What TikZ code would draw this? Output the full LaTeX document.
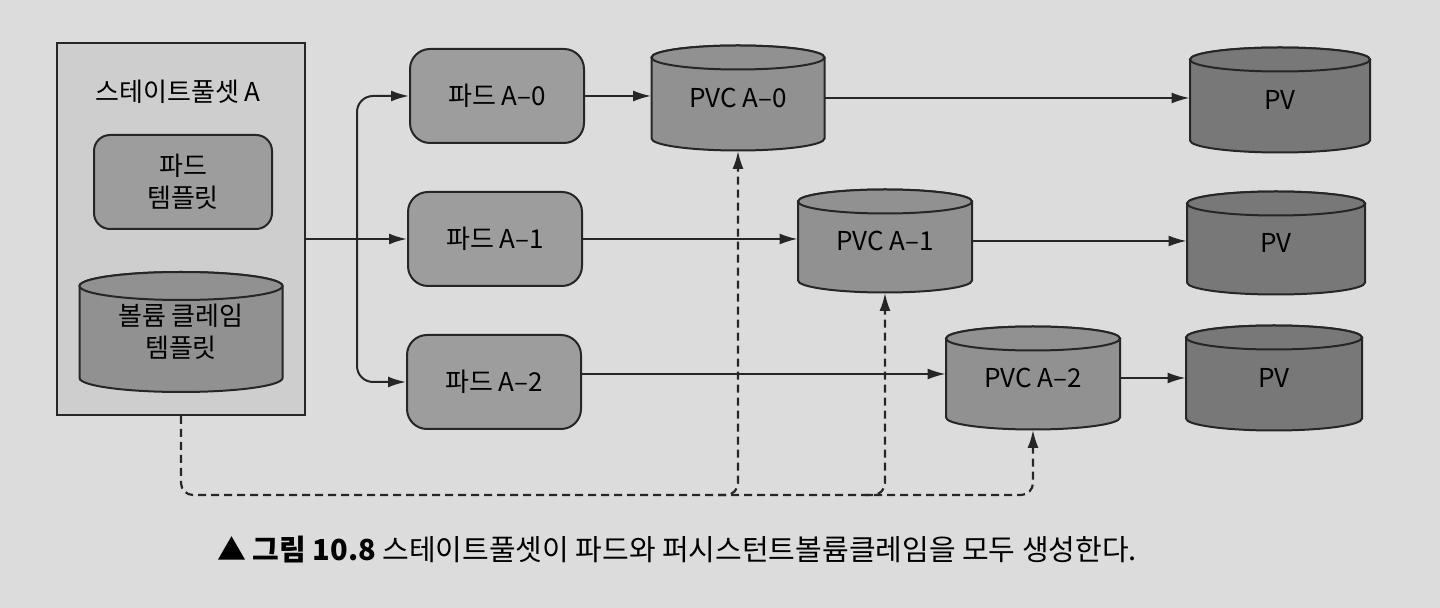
\documentclass[tikz,border=0pt]{standalone}
\usepackage{fontspec}
\setmainfont{Noto Sans CJK KR}
\usepackage{tikz}
\usetikzlibrary{calc,arrows.meta,positioning}
\definecolor{page-bg}{HTML}{DCDCDC}
\definecolor{set-fill}{HTML}{CECECE}
\definecolor{pod-fill}{HTML}{9D9D9D}
\definecolor{pvc-fill}{HTML}{919191}
\definecolor{pv-fill}{HTML}{787878}
\definecolor{ink}{HTML}{262626}

% #1 name, #2 x, #3 y, #4 width, #5 full height, #6 end radius, #7 fill, #8 text
\newcommand{\canister}[8]{%
  \begin{scope}[shift={(#2,#3)}]
    \draw[canline, fill=#7] (-#4/2,-#5/2+#6) -- (-#4/2,#5/2-#6)
      arc[start angle=180, end angle=0, x radius=#4/2, y radius=#6]
      -- (#4/2,-#5/2+#6)
      arc[start angle=0, end angle=-180, x radius=#4/2, y radius=#6] -- cycle;
    \draw[canline, fill=#7] (0,-#5/2+#6) ellipse[x radius=#4/2, y radius=#6];
  \end{scope}
  \node[minimum width=#4*0.5pt, minimum height=#5*0.5pt, inner sep=0pt, align=center] (#1) at (#2,#3) {#8};
}

\begin{document}
\begin{tikzpicture}[x=0.5pt,y=-0.5pt,
    font=\fontsize{13}{16}\selectfont,
    podbox/.style={draw=ink, line width=1pt, rounded corners=10pt, fill=pod-fill,
      minimum width=87pt, minimum height=47pt, align=center},
    canline/.style={draw=ink, line width=1pt},
    link/.style={draw=ink, line width=1pt, -{Latex[length=9pt,width=5.5pt]}},
    claim/.style={link, line width=1.1pt, dash pattern=on 4pt off 2.5pt, rounded corners=6pt}]
    \fill[page-bg] (0,0) rectangle (1440,608);
    \useasboundingbox (0,0) rectangle (1440,608);

    % stateful set with its two templates
    \node[draw=ink, line width=0.8pt, fill=set-fill, minimum width=124pt, minimum height=186pt] (set) at (181,229) {};
    \node (settitle) at (178,92) {스테이트풀셋 A};
    \node[podbox, rounded corners=8pt, minimum width=89pt] (podtpl) at (183,182) {파드\\템플릿};
    \canister{vcttpl}{181}{332}{203}{120}{14}{pvc-fill}{볼륨 클레임\\템플릿}

    % pods
    \node[podbox] (pod0) at (497,96) {파드 A–0};
    \node[podbox] (pod1) at (495,239) {파드 A–1};
    \node[podbox] (pod2) at (494,382) {파드 A–2};

    % claims and volumes
    \canister{pvc0}{738}{98}{173}{105}{12}{pvc-fill}{PVC A–0}
    \canister{pvc1}{885}{241}{174}{103}{12}{pvc-fill}{PVC A–1}
    \canister{pvc2}{1033}{378}{174}{103}{12}{pvc-fill}{PVC A–2}
    \canister{pv0}{1280}{100}{180}{105}{12}{pv-fill}{PV}
    \canister{pv1}{1276}{243}{178}{103}{12}{pv-fill}{PV}
    \canister{pv2}{1274}{378}{176}{105}{12}{pv-fill}{PV}

    % set creates pods
    \coordinate (fork) at (357,239);
    \draw[link] (set.east |- pod1.west) -- (pod1.west);
    \draw[link, rounded corners=8pt] (fork) |- (pod0.west);
    \draw[link, rounded corners=8pt] (fork) |- (pod2.west);

    % pods bind claims, claims bind volumes
    \draw[link] (pod0.east) -- (pvc0.west |- pod0.east);
    \draw[link] (pod1.east) -- (pvc1.west |- pod1.east);
    \draw[link] ($(pod2.east)+(0,-8)$) -- ($(pvc2.west |- pod2.east)+(0,-8)$);
    \draw[link] (pvc0.east) -- (pv0.west |- pvc0.east);
    \draw[link] (pvc1.east) -- (pv1.west |- pvc1.east);
    \draw[link] (pvc2.east) -- (pv2.west |- pvc2.east);

    % set creates claims (dashed)
    \coordinate (bus) at (0,495);
    \draw[claim] (set.south) |- (pvc2.south |- bus) -- (pvc2.south);
    \draw[claim] ($(pvc0.south |- bus)+(-20,0)$) -| (pvc0.south);
    \draw[claim] ($(pvc1.south |- bus)+(-20,0)$) -| (pvc1.south);

    \node[font=\fontsize{14.5}{17}\selectfont] (caption) at (677,550) {\textbf{▲ 그림 10.8} 스테이트풀셋이 파드와 퍼시스턴트볼륨클레임을 모두 생성한다.};
\end{tikzpicture}
\end{document}
